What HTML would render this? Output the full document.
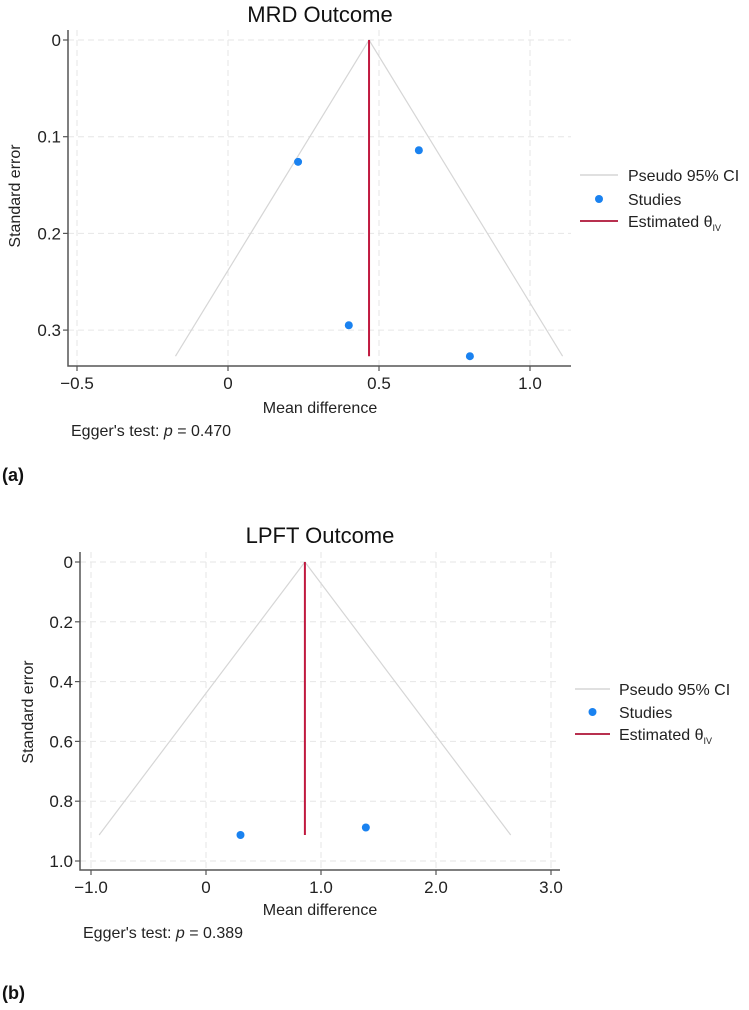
<!DOCTYPE html>
<html><head><meta charset="utf-8"><style>
body{margin:0;background:#fff;width:749px;height:1010px;overflow:hidden}
svg{display:block;font-family:"Liberation Sans",Arial,sans-serif}
</style></head><body>
<svg id="s" width="749" height="1010"></svg>
<script>
// Panel (a) MRD data
const mrdStudyMD = [0.232, 0.632, 0.40, 0.801];
const mrdStudySE = [0.126, 0.114, 0.295, 0.327];
const mrdTheta = 0.467;
const mrdMaxSE = 0.327;
const mrdXTicks = [-0.5, 0, 0.5, 1.0];
const mrdXTickLabels = ["\u22120.5", "0", "0.5", "1.0"];
const mrdYTicks = [0, 0.1, 0.2, 0.3];
const mrdYTickLabels = ["0", "0.1", "0.2", "0.3"];
// Panel (b) LPFT data
const lpftStudyMD = [0.30, 1.39];
const lpftStudySE = [0.913, 0.888];
const lpftTheta = 0.86;
const lpftMaxSE = 0.913;
const lpftXTicks = [-1, 0, 1, 2, 3];
const lpftXTickLabels = ["\u22121.0", "0", "1.0", "2.0", "3.0"];
const lpftYTicks = [0, 0.2, 0.4, 0.6, 0.8, 1.0];
const lpftYTickLabels = ["0", "0.2", "0.4", "0.6", "0.8", "1.0"];

const NS = "http://www.w3.org/2000/svg";
const svg = document.getElementById("s");
function mk(tag, attrs, parent, text) {
  const e = document.createElementNS(NS, tag);
  for (const k in attrs) e.setAttribute(k, attrs[k]);
  if (text !== undefined) e.textContent = text;
  (parent || svg).appendChild(e);
  return e;
}

function panel(cfg) {
  const g = mk("g", {});
  
  
  const X = v => cfg.x0 + v * cfg.xs;
  const Y = v => cfg.y0 + v * cfg.ys;
  cfg.xTicks.forEach(v => {
    const l = mk("line", {x1: X(v), x2: X(v), y1: cfg.top, y2: cfg.axY, stroke: "#e6e6e6", "stroke-dasharray": "6,4", "stroke-width": 1}, g);
    
    
  });
  cfg.yTicks.forEach(v => {
    const l = mk("line", {x1: cfg.axX, x2: cfg.right, y1: Y(v), y2: Y(v), stroke: "#e6e6e6", "stroke-dasharray": "6,4", "stroke-width": 1}, g);
    
    
  });
  const half = 1.96 * cfg.maxSE;
  const f = mk("polyline", {points: `${X(cfg.theta - half)},${Y(cfg.maxSE)} ${X(cfg.theta)},${Y(0)} ${X(cfg.theta + half)},${Y(cfg.maxSE)}`, fill: "none", stroke: "#d6d6d6", "stroke-width": 1.2}, g);
  
  
  const t = mk("line", {x1: X(cfg.theta), x2: X(cfg.theta), y1: Y(0), y2: Y(cfg.maxSE), stroke: "#c0193f", "stroke-width": 2}, g);
  
  
  cfg.md.forEach((m, i) => {
    const c = mk("circle", {cx: X(m), cy: Y(cfg.se[i]), r: 4, fill: "#1a82f0"}, g);
    
    
  });
  const ax = mk("path", {d: `M${cfg.axX},${cfg.top}V${cfg.axY}H${cfg.right}`, fill: "none", stroke: "#555", "stroke-width": 1.5}, g);
  
  
  cfg.xTicks.forEach((v, i) => {
    mk("line", {x1: X(v), x2: X(v), y1: cfg.axY, y2: cfg.axY + 5, stroke: "#555", "stroke-width": 1.2}, g);
    const tx = mk("text", {x: X(v), y: cfg.axY + 23, "text-anchor": "middle", "font-size": 17, fill: "#222"}, g, cfg.xLabels[i]);
    
    
  });
  cfg.yTicks.forEach((v, i) => {
    mk("line", {x1: cfg.axX - 5, x2: cfg.axX, y1: Y(v), y2: Y(v), stroke: "#555", "stroke-width": 1.2}, g);
    const tx = mk("text", {x: cfg.axX - 7, y: Y(v) + 6, "text-anchor": "end", "font-size": 17, fill: "#222"}, g, cfg.yLabels[i]);
    
    
  });
  const ti = mk("text", {x: 320, y: cfg.titleY, "text-anchor": "middle", "font-size": 22, fill: "#111"}, g, cfg.title);
  
  
  const xl = mk("text", {x: 320, y: cfg.xlabY, "text-anchor": "middle", "font-size": 16, fill: "#222"}, g, "Mean difference");
  
  
  const yl = mk("text", {x: 0, y: 0, "text-anchor": "middle", "font-size": 16, fill: "#222", transform: `translate(${cfg.ylabX},${cfg.ylabY}) rotate(-90)`}, g, "Standard error");
  
  
  const eg = mk("text", {x: cfg.eggX, y: cfg.eggY, "font-size": 16, fill: "#222"}, g);
  
  
  mk("tspan", {}, eg, "Egger's test: ");
  mk("tspan", {"font-style": "italic"}, eg, "p");
  mk("tspan", {}, eg, " = " + cfg.egger);
  const pl = mk("text", {x: 2, y: cfg.panelY, "font-size": 18, "font-weight": "bold", fill: "#111"}, g, cfg.panel);
  
  
  const lg = mk("g", {}, g);
  
  
  const L = cfg.leg;
  mk("line", {x1: L.x1, x2: L.x2, y1: L.y[0], y2: L.y[0], stroke: "#d6d6d6", "stroke-width": 1.5}, lg);
  mk("circle", {cx: (L.x1 + L.x2) / 2, cy: L.y[1], r: 4, fill: "#1a82f0"}, lg);
  mk("line", {x1: L.x1, x2: L.x2, y1: L.y[2], y2: L.y[2], stroke: "#b8304f", "stroke-width": 2}, lg);
  const e1 = mk("text", {x: L.tx, y: L.y[0] + 6, "font-size": 16, fill: "#222"}, lg, "Pseudo 95% CI");
  
  
  const e2 = mk("text", {x: L.tx, y: L.y[1] + 6, "font-size": 16, fill: "#222"}, lg, "Studies");
  
  
  const e3 = mk("text", {x: L.tx, y: L.y[2] + 6, "font-size": 16, fill: "#222"}, lg);
  
  
  mk("tspan", {}, e3, "Estimated \u03b8");
  mk("tspan", {"font-size": 9, dy: 4}, e3, "IV");
}

panel({name: "mrd-funnel-plot", title: "MRD Outcome", titleY: 22, panel: "(a)", panelY: 481,
  x0: 228, xs: 302, y0: 40, ys: 967, top: 30, axX: 68, axY: 366, right: 571,
  md: mrdStudyMD, se: mrdStudySE, theta: mrdTheta, maxSE: mrdMaxSE,
  xTicks: mrdXTicks, xLabels: mrdXTickLabels, yTicks: mrdYTicks, yLabels: mrdYTickLabels,
  xlabY: 413, ylabX: 20, ylabY: 196, eggX: 71, eggY: 436, egger: "0.470",
  leg: {x1: 580, x2: 618, tx: 628, y: [175, 199, 221]}});

panel({name: "lpft-funnel-plot", title: "LPFT Outcome", titleY: 543, panel: "(b)", panelY: 999,
  x0: 206, xs: 115, y0: 562, ys: 299, top: 552, axX: 80, axY: 870, right: 560,
  md: lpftStudyMD, se: lpftStudySE, theta: lpftTheta, maxSE: lpftMaxSE,
  xTicks: lpftXTicks, xLabels: lpftXTickLabels, yTicks: lpftYTicks, yLabels: lpftYTickLabels,
  xlabY: 915, ylabX: 33, ylabY: 712, eggX: 83, eggY: 938, egger: "0.389",
  leg: {x1: 575, x2: 610, tx: 619, y: [689, 712, 734]}});
</script>
</body></html>
